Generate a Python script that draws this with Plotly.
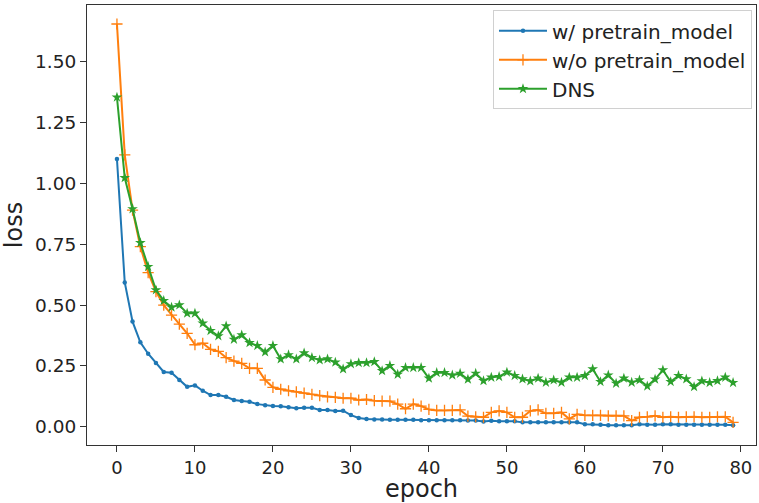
import plotly.graph_objects as go

epochs = list(range(80))

# loss per epoch
w_pretrain = [
    1.100, 0.593, 0.432, 0.347, 0.300, 0.262, 0.225, 0.222, 0.192, 0.164,
    0.170, 0.148, 0.130, 0.130, 0.123, 0.110, 0.106, 0.103, 0.093, 0.088,
    0.085, 0.084, 0.080, 0.076, 0.078, 0.078, 0.069, 0.069, 0.065, 0.066,
    0.048, 0.036, 0.032, 0.030, 0.030, 0.029, 0.029, 0.029, 0.029, 0.027,
    0.027, 0.027, 0.027, 0.027, 0.027, 0.026, 0.026, 0.022, 0.025, 0.023,
    0.023, 0.023, 0.018, 0.018, 0.018, 0.018, 0.018, 0.018, 0.018, 0.018,
    0.010, 0.010, 0.008, 0.006, 0.006, 0.006, 0.006, 0.010, 0.008, 0.008,
    0.010, 0.010, 0.008, 0.008, 0.008, 0.008, 0.008, 0.008, 0.008, 0.006,
]

wo_pretrain = [
    1.655, 1.117, 0.890, 0.740, 0.633, 0.555, 0.500, 0.459, 0.422, 0.384,
    0.337, 0.343, 0.318, 0.310, 0.284, 0.270, 0.260, 0.240, 0.240, 0.192,
    0.162, 0.154, 0.148, 0.143, 0.138, 0.133, 0.128, 0.123, 0.121, 0.117,
    0.117, 0.110, 0.112, 0.107, 0.105, 0.105, 0.093, 0.074, 0.093, 0.085,
    0.071, 0.067, 0.067, 0.067, 0.069, 0.044, 0.041, 0.039, 0.059, 0.065,
    0.059, 0.039, 0.039, 0.065, 0.069, 0.055, 0.055, 0.059, 0.032, 0.051,
    0.047, 0.047, 0.047, 0.045, 0.045, 0.045, 0.025, 0.039, 0.041, 0.045,
    0.039, 0.041, 0.039, 0.041, 0.041, 0.039, 0.039, 0.041, 0.041, 0.018,
]

dns = [
    1.354, 1.023, 0.895, 0.756, 0.658, 0.562, 0.518, 0.491, 0.500, 0.466,
    0.466, 0.425, 0.395, 0.373, 0.414, 0.359, 0.377, 0.345, 0.333, 0.307,
    0.333, 0.278, 0.295, 0.278, 0.303, 0.284, 0.274, 0.278, 0.265, 0.237,
    0.258, 0.263, 0.263, 0.267, 0.230, 0.251, 0.215, 0.243, 0.243, 0.243,
    0.199, 0.222, 0.222, 0.212, 0.219, 0.195, 0.219, 0.189, 0.203, 0.206,
    0.224, 0.210, 0.196, 0.188, 0.199, 0.182, 0.192, 0.182, 0.203, 0.203,
    0.210, 0.237, 0.185, 0.212, 0.178, 0.199, 0.182, 0.192, 0.167, 0.195,
    0.233, 0.185, 0.210, 0.196, 0.164, 0.188, 0.181, 0.189, 0.203, 0.181,
]

x_ticks = [0, 10, 20, 30, 40, 50, 60, 70, 80]
y_ticks = [0.0, 0.25, 0.5, 0.75, 1.0, 1.25, 1.5]

FONT = "DejaVu Sans"

fig = go.Figure()
fig.add_trace(go.Scatter(x=epochs, y=w_pretrain, mode='lines+markers',
                         name='w/ pretrain_model',
                         line=dict(color='#1f77b4', width=2),
                         marker=dict(symbol='circle', size=4.5, color='#1f77b4')))
fig.add_trace(go.Scatter(x=epochs, y=wo_pretrain, mode='lines+markers',
                         name='w/o pretrain_model',
                         line=dict(color='#ff7f0e', width=2),
                         marker=dict(symbol='cross-thin', size=8, color='#ff7f0e',
                                     line=dict(color='#ff7f0e', width=1.3))))
fig.add_trace(go.Scatter(x=epochs, y=dns, mode='lines+markers',
                         name='DNS',
                         line=dict(color='#2ca02c', width=2),
                         marker=dict(symbol='star', size=8, color='#2ca02c')))

axis_common = dict(showgrid=False, zeroline=False, showline=True, mirror=True,
                   linecolor='#333333', linewidth=1.2, ticks='outside', ticklen=6,
                   tickcolor='#333333', tickwidth=1.2, automargin=False)

fig.update_layout(
    width=759, height=503,
    margin=dict(l=87, r=3, t=5, b=58),
    paper_bgcolor='white', plot_bgcolor='white',
    font=dict(family=FONT, color='#222222'),
    xaxis=dict(range=[-3.84, 81.94], tickvals=x_ticks,
               tickfont=dict(family=FONT, size=18, color='#222222'),
               title=dict(text='epoch', font=dict(family=FONT, size=24), standoff=6),
               **axis_common),
    yaxis=dict(range=[-0.075, 1.733], tickvals=y_ticks, tickformat='.2f',
               tickfont=dict(family=FONT, size=18.5, color='#222222'),
               title=dict(text='loss', font=dict(family=FONT, size=24), standoff=10),
               **axis_common),
    legend=dict(x=0.994, y=0.988, xanchor='right', yanchor='top',
                bgcolor='rgba(255,255,255,0.8)', bordercolor='#d0d0d0', borderwidth=1,
                font=dict(family=FONT, size=20, color='#222222'),
                itemwidth=48),
    showlegend=True,
)

# page has a default 8px body margin; drop it so the figure sits at the window corner
fig.write_html("out.html", config={'displayModeBar': False},
               post_script="document.body.style.margin='0px';")
